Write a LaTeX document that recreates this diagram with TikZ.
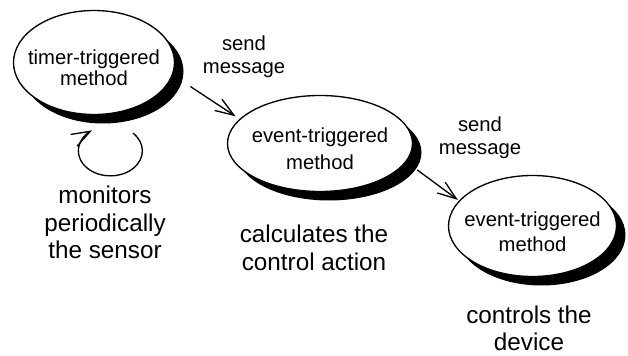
\documentclass[tikz,border=0pt]{standalone}
\usepackage{fontspec}
\setmainfont{Liberation Sans}
\usetikzlibrary{positioning,arrows.meta,shapes.geometric,shadows}

% strut that lifts the top of the first line
\newcommand{\topgap}{\rule{0pt}{19.5pt}}

\begin{document}
\begin{tikzpicture}[
  x=0.75pt, y=-0.75pt,
  method/.style={
    ellipse, draw, line width=1pt, fill=white,
    inner xsep=-10pt, inner ysep=0pt, align=center,
    font=\fontsize{15.2pt}{18.75pt}\selectfont,
    drop shadow={shadow xshift=6.75pt, shadow yshift=-6.75pt,
      opacity=1, fill=black}
  },
  note/.style={align=center, inner sep=0pt,
    font=\fontsize{15.2pt}{17.5pt}\selectfont},
  task/.style={align=center, inner sep=0pt,
    font=\fontsize{18.2pt}{20.6pt}\selectfont},
  msg/.style={-{Straight Barb[length=14pt,width=10pt]}, line width=1pt}
]
\useasboundingbox (0,0) rectangle (628,356);

% Methods
\node[method, minimum width=120.75pt, minimum height=78pt,
  font=\fontsize{15.2pt}{15.75pt}\selectfont] (timer) at (94,62.5)
  {\topgap timer-triggered\\method};

\node[method, minimum width=138.75pt, minimum height=72pt,
  font=\fontsize{15.2pt}{20.25pt}\selectfont] (calc) at (320,143.5)
  {\topgap event-triggered\\method};

\node[method, minimum width=126pt, minimum height=75.75pt] (device) at (532.5,226)
  {\rule{0pt}{20.25pt}event-triggered\\method};

% Messages
\draw[msg, shorten <=15.75pt, shorten >=3.6pt] (timer.-9.3) -- (calc.163.6);
\draw[msg, shorten <=10.2pt, shorten >=1pt] (calc.-12.1) -- (device.161.1);

\node[note] (send1) at (244,57) {send\\message};
\node[note] (send2) at (480,138) {send\\message};

% Periodic loop
\draw[msg] ([xshift=29.25pt, yshift=-13.5pt]timer.south)
  arc[x radius=24pt, y radius=18.75pt, start angle=45, end angle=-235];

% Annotations
\node[task, below=53pt of timer, xshift=8.25pt] (monitor) {monitors\\periodically\\the sensor};
\node[task, below=24.5pt of calc, xshift=-4.5pt] (action) {calculates the\\control action};
\node[task, below=21pt of device, xshift=-2.6pt] (control) {controls the\\device};

\end{tikzpicture}
\end{document}
